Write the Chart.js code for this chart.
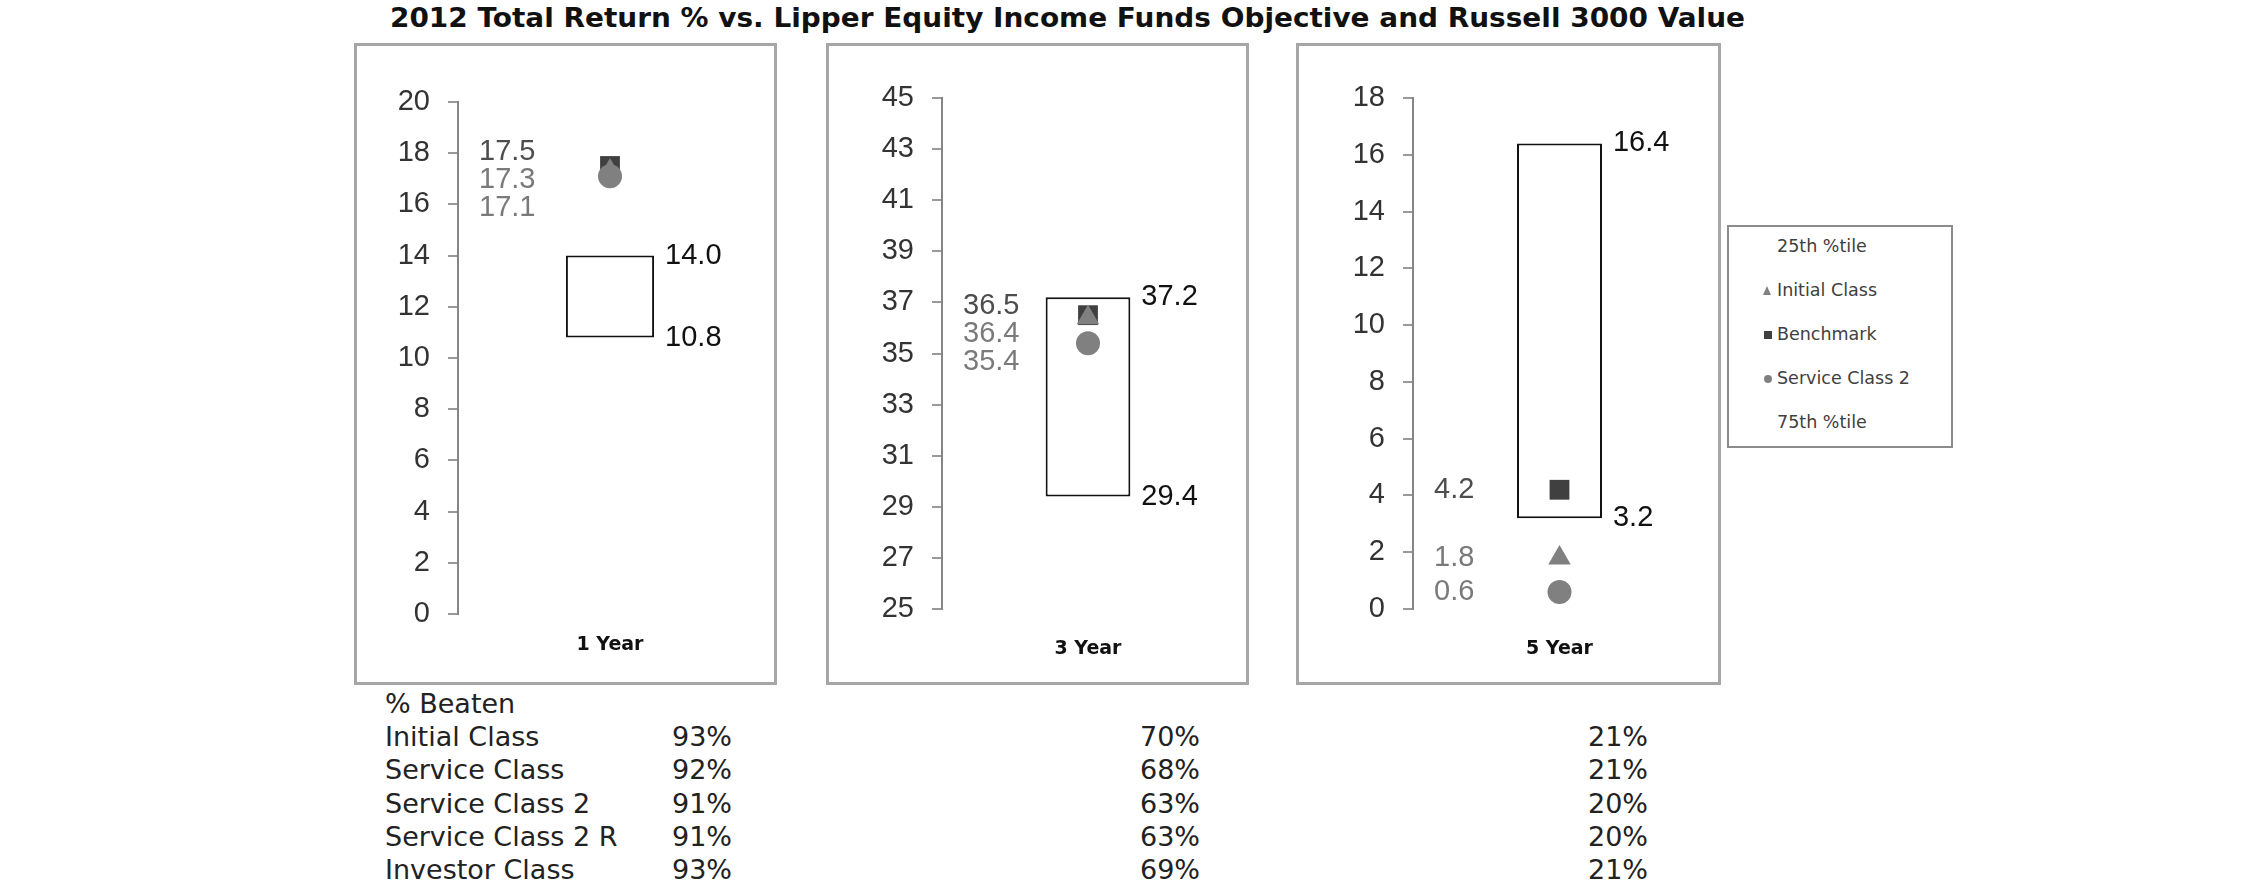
<!DOCTYPE html>
<html>
<head>
<meta charset="utf-8">
<script src="https://cdn.jsdelivr.net/npm/chart.js@4.4.0/dist/chart.umd.min.js"></script>
<style>
  html, body { margin: 0; padding: 0; background: #fff; }
  body { width: 2250px; height: 895px; position: relative; overflow: hidden; font-family: "DejaVu Sans", Verdana, sans-serif; }
  .frame { position: absolute; border: 3px solid #a6a6a6; box-sizing: border-box; pointer-events: none; }
  canvas.panel { position: absolute; }
  #title { position: absolute; left: 390px; top: 3px; white-space: nowrap; font: bold 26px/30px "DejaVu Sans", Verdana, sans-serif; color: #111; transform-origin: 0 0; }
  #legend { position: absolute; left: 1727px; top: 225px; width: 226px; height: 223px; box-sizing: border-box; border: 2px solid #8c8c8c; }
  .lg { position: absolute; left: 48px; font: 17.5px/1 "DejaVu Sans", Verdana, sans-serif; color: #404040; white-space: nowrap; }
  .mk { position: absolute; }
  .beaten { position: absolute; font: 27px/1 "DejaVu Sans", Verdana, sans-serif; color: #222; white-space: nowrap; }
</style>
</head>
<body>
<div id="title">2012 Total Return % vs. Lipper Equity Income Funds Objective and Russell 3000 Value</div>
<div id="legend"></div>
<script>
// chart data
const periods = ['1 Year', '3 Year', '5 Year'];
const pct25th = [14.0, 37.2, 16.4];   // top of box
const pct75th = [10.8, 29.4, 3.2];    // bottom of box
const initialClass = [17.3, 36.4, 1.8];
const benchmark = [17.5, 36.5, 4.2];
const serviceClass2 = [17.1, 35.4, 0.6];
const axisMin = [0, 25, 0];
const axisMax = [20, 45, 18];
const axisStep = [2, 2, 2];

const legendLabels = ['25th %tile', 'Initial Class', 'Benchmark', 'Service Class 2', '75th %tile'];

const beatenClasses = ['Initial Class', 'Service Class', 'Service Class 2', 'Service Class 2 R', 'Investor Class'];
const beaten1Y = [93, 92, 91, 91, 93];
const beaten3Y = [70, 68, 63, 63, 69];
const beaten5Y = [21, 21, 20, 20, 21];

// layout (page pixels)
const frameTop = 44, frameBottom = 684;
const panels = [
  { left: 355, width: 421, axisX: 458, plotTop: 102, plotBottom: 614, labelY: 645 },
  { left: 827, width: 421, axisX: 942, plotTop: 98, plotBottom: 609, labelY: 649 },
  { left: 1297, width: 423, axisX: 1413, plotTop: 98, plotBottom: 609, labelY: 649 }
];
const numFont = '"Liberation Sans Narrow", "Liberation Sans", Arial, sans-serif';
const darkMark = '#404040', greyMark = '#808080';

// push overlapping side labels apart, keeping each group centred on its values
function spread(items, gap) {
  let groups = items.map(d => ({ members: [d] }));
  const centre = g => g.members.reduce((s, d) => s + d.y, 0) / g.members.length + (g.members.length > 1 ? 9 : 0);
  let changed = true;
  while (changed) {
    changed = false;
    for (let k = 0; k < groups.length - 1; k++) {
      const a = groups[k], b = groups[k + 1];
      const aEnd = centre(a) + (a.members.length - 1) * gap / 2;
      const bStart = centre(b) - (b.members.length - 1) * gap / 2;
      if (bStart - aEnd < gap) {
        groups.splice(k, 2, { members: a.members.concat(b.members) });
        changed = true;
        break;
      }
    }
  }
  groups.forEach(g => {
    const c = centre(g);
    g.members.forEach((d, j) => { d.pos = c + (j - (g.members.length - 1) / 2) * gap; });
  });
}

function labelPlugin(i) {
  return {
    id: 'valueLabels',
    afterDatasetsDraw(chart) {
      const ctx = chart.ctx, y = chart.scales.y;
      const box = chart.getDatasetMeta(3).data[0];
      const boxRight = box.x + box.width / 2;
      ctx.save();
      ctx.font = '29px ' + numFont;
      ctx.textBaseline = 'middle';
      ctx.textAlign = 'left';
      ctx.fillStyle = '#111';
      ctx.fillText(pct25th[i].toFixed(1), boxRight + 11, y.getPixelForValue(pct25th[i]));
      ctx.fillText(pct75th[i].toFixed(1), boxRight + 11, y.getPixelForValue(pct75th[i]));

      const items = [
        { v: benchmark[i], color: '#4d4d4d' },
        { v: initialClass[i], color: '#7a7a7a' },
        { v: serviceClass2[i], color: '#7a7a7a' }
      ].map(d => Object.assign(d, { y: y.getPixelForValue(d.v) }))
       .sort((a, b) => a.y - b.y);
      spread(items, 28);
      items.forEach(d => {
        ctx.fillStyle = d.color;
        ctx.fillText(d.v.toFixed(1), chart.chartArea.left + 21, d.pos);
      });
      ctx.restore();
    }
  };
}

function markerSet(label, value, style, radius, color, order) {
  return {
    type: 'line', label: label, data: [value], showLine: false,
    pointStyle: style, pointRadius: radius, pointHoverRadius: radius,
    pointBackgroundColor: color, pointBorderWidth: 0, order: order
  };
}

panels.forEach((p, i) => {
  const frame = document.createElement('div');
  frame.className = 'frame';
  frame.style.left = (p.left - 1) + 'px';
  frame.style.top = (frameTop - 1) + 'px';
  frame.style.width = (p.width + 2) + 'px';
  frame.style.height = (frameBottom - frameTop + 2) + 'px';

  const canvas = document.createElement('canvas');
  canvas.className = 'panel';
  canvas.width = p.width;
  canvas.height = frameBottom - frameTop;
  canvas.style.left = p.left + 'px';
  canvas.style.top = frameTop + 'px';
  document.body.appendChild(canvas);
  document.body.appendChild(frame);

  new Chart(canvas, {
    type: 'bar',
    data: {
      labels: [periods[i]],
      datasets: [
        markerSet('Service Class 2', serviceClass2[i], 'circle', 12, greyMark, 0),
        markerSet('Initial Class', initialClass[i], 'triangle', 13, greyMark, 1),
        markerSet('Benchmark', benchmark[i], 'rect', 14, darkMark, 2),
        {
          label: '25th-75th %tile', data: [[pct75th[i], pct25th[i]]],
          backgroundColor: '#ffffff', borderColor: '#111', borderWidth: 2, borderSkipped: false,
          barPercentage: 0.29, categoryPercentage: 1, order: 3
        }
      ]
    },
    options: {
      responsive: false,
      animation: false,
      devicePixelRatio: 1,
      layout: { padding: { top: p.plotTop - frameTop, left: 0, right: 0, bottom: 0 } },
      plugins: { legend: { display: false }, tooltip: { enabled: false }, title: { display: false } },
      scales: {
        x: {
          grid: { display: false, drawTicks: false },
          border: { display: false },
          ticks: {
            color: '#111',
            font: { family: '"DejaVu Sans", Verdana, sans-serif', weight: 'bold', size: 19, lineHeight: 1.2 },
            padding: p.labelY - p.plotBottom - 11.4
          },
          afterFit: s => { s.height = frameBottom - p.plotBottom; }
        },
        y: {
          min: axisMin[i], max: axisMax[i],
          ticks: { stepSize: axisStep[i], color: '#333', font: { family: numFont, size: 29 }, padding: 18 },
          grid: { drawOnChartArea: false, drawTicks: true, tickLength: 10, color: '#999', lineWidth: 2 },
          border: { display: true, color: '#868686', width: 2 },
          afterFit: s => { s.width = p.axisX - p.left; }
        }
      }
    },
    plugins: [labelPlugin(i)]
  });
});

// legend box
const legend = document.getElementById('legend');
const legendMarks = [null, 'triangle', 'square', 'circle', null];
legendLabels.forEach((txt, k) => {
  const top = 11 + k * 44;
  const t = document.createElement('div');
  t.className = 'lg';
  t.style.top = top + 'px';
  t.textContent = txt;
  legend.appendChild(t);
  const m = legendMarks[k];
  if (m) {
    const s = document.createElement('div');
    s.className = 'mk';
    if (m === 'triangle') {
      Object.assign(s.style, { left: '34px', top: (top + 4) + 'px', width: 0, height: 0,
        borderLeft: '4.5px solid transparent', borderRight: '4.5px solid transparent', borderBottom: '9px solid ' + greyMark });
    } else if (m === 'square') {
      Object.assign(s.style, { left: '35px', top: (top + 5) + 'px', width: '8px', height: '8px', background: darkMark });
    } else {
      Object.assign(s.style, { left: '35px', top: (top + 5) + 'px', width: '8px', height: '8px', borderRadius: '50%', background: greyMark });
    }
    legend.appendChild(s);
  }
});

// % Beaten table
function addText(txt, x, y) {
  const d = document.createElement('div');
  d.className = 'beaten';
  d.style.left = x + 'px';
  d.style.top = y + 'px';
  d.textContent = txt;
  document.body.appendChild(d);
}
addText('% Beaten', 385, 690);
beatenClasses.forEach((name, k) => {
  const y = 690 + (k + 1) * 33.2;
  addText(name, 385, y);
  addText(beaten1Y[k] + '%', 672, y);
  addText(beaten3Y[k] + '%', 1140, y);
  addText(beaten5Y[k] + '%', 1588, y);
});

// stretch the title to the width it has in the original
const title = document.getElementById('title');
const fitTitle = () => {
  title.style.transform = 'none';
  const w = title.getBoundingClientRect().width;
  title.style.transform = 'scaleX(' + (1355 / w) + ')';
};
fitTitle();
if (document.fonts) document.fonts.ready.then(fitTitle);
</script>
</body>
</html>
